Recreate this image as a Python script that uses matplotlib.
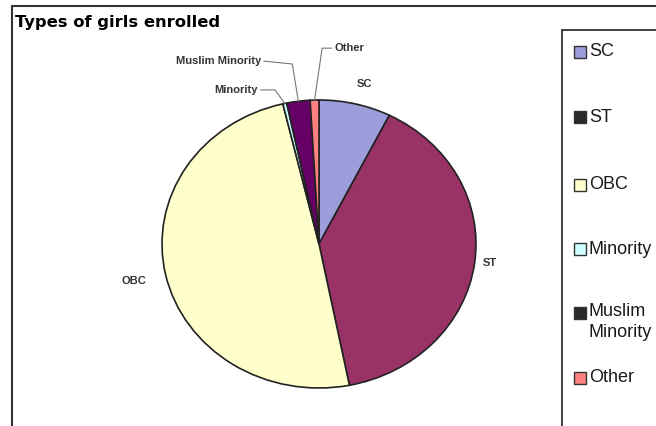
import numpy as np
import matplotlib
matplotlib.use("Agg")
import matplotlib.pyplot as plt
from matplotlib.patches import Rectangle
from matplotlib.lines import Line2D

plt.rcParams['font.family'] = ['Liberation Sans', 'DejaVu Sans']

categories = ["SC", "ST", "OBC", "Minority", "Muslim Minority", "Other"]
values = [7.4, 39.5, 49.4, 0.4, 2.4, 0.9]
colors = ["#9D9DDB", "#993366", "#FFFFCC", "#CCFFFF", "#660066", "#FF8080"]
legend_labels = ["SC", "ST", "OBC", "Minority", "Muslim\nMinority", "Other"]
legend_colors = ["#9D9DDB", "#2a2a2a", "#FFFFCC", "#CCFFFF", "#2a2a2a", "#FF8080"]
title = "Types of girls enrolled"

W, H = 656, 426
fig = plt.figure(figsize=(W / 100, H / 100), dpi=100)

def fx(px):
    return px / W

def fy(py):
    return 1 - py / H

# outer frame
fig.add_artist(Rectangle((fx(12), fy(440)), fx(700), fy(6) - fy(440),
                         transform=fig.transFigure, fill=False,
                         edgecolor="#333333", linewidth=1.5))
fig.text(fx(15), fy(22), title, fontsize=11.8, fontweight="bold",
         va="center", ha="left", family="DejaVu Sans")

# pie axes
cx, cy, rx, ry = 319, 244, 157, 144
ax = fig.add_axes([fx(cx - rx), fy(cy + ry), 2 * rx / W, 2 * ry / H])
wedges, _ = ax.pie(values, colors=colors, startangle=90, counterclock=False,
                   wedgeprops=dict(edgecolor="#222222", linewidth=1.2))
ax.set_aspect("auto")
ax.set_xlim(-1, 1)
ax.set_ylim(-1, 1)
ax.axis("off")

def edge_point(w, r=1.0):
    th = np.deg2rad((w.theta1 + w.theta2) / 2)
    return r * np.cos(th), r * np.sin(th)

lbl_kw = dict(fontsize=8, color="#333333", fontweight="bold")
ax.text(0.29, 1.11, "SC", ha="center", va="center", **lbl_kw)
ax.text(1.09, -0.13, "ST", ha="center", va="center", **lbl_kw)
ax.text(-1.18, -0.26, "OBC", ha="center", va="center", **lbl_kw)

leaders = {
    "Minority": ((-0.37, 1.07), (-0.28, 1.07)),
    "Muslim Minority": ((-0.35, 1.27), (-0.17, 1.25)),
    "Other": ((0.08, 1.36), (0.02, 1.36)),
}
for i, name in enumerate(categories):
    if name not in leaders:
        continue
    (tx, ty), (kx, ky) = leaders[name]
    ex, ey = edge_point(wedges[i], 1.0)
    ha = "left" if name == "Other" else "right"
    ax.text(tx + (0.02 if ha == "left" else -0.02), ty, name, ha=ha,
            va="center", **lbl_kw)
    ax.add_line(Line2D([tx, kx, ex], [ty, ky, ey], color="#777777",
                       linewidth=0.8, clip_on=False))

# legend box
fig.add_artist(Rectangle((fx(562), fy(440)), fx(700), fy(30) - fy(440),
                         transform=fig.transFigure, fill=False,
                         edgecolor="#333333", linewidth=1.3))
legend_y = [52, 117, 185, 249, 313, 378]
for lab, col, py in zip(legend_labels, legend_colors, legend_y):
    fig.add_artist(Rectangle((fx(574), fy(py + 6)), fx(12), fy(py - 6) - fy(py + 6),
                             transform=fig.transFigure, facecolor=col,
                             edgecolor="#333333", linewidth=1.0))
    if "\n" in lab:
        fig.text(fx(589), fy(py - 10), lab, fontsize=13, va="top", ha="left",
                 color="#1a1a1a", linespacing=1.3)
    else:
        fig.text(fx(589), fy(py), lab, fontsize=13, va="center", ha="left",
                 color="#1a1a1a")

fig.savefig("out.png", dpi=100)
